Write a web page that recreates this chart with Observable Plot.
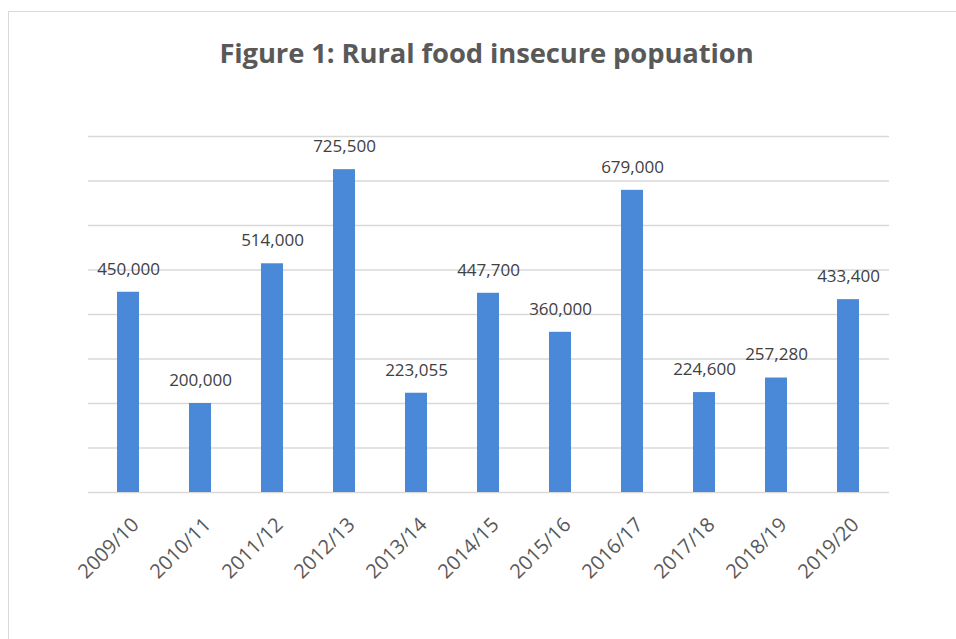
<!DOCTYPE html>
<html>
<head>
<meta charset="utf-8">
<script src="https://cdn.jsdelivr.net/npm/d3@7"></script>
<script src="https://cdn.jsdelivr.net/npm/@observablehq/plot@0.6"></script>
<style>
  html, body { margin: 0; padding: 0; background: #fff; }
  #wrap { position: relative; width: 956px; height: 639px; overflow: hidden; font-family: "Open Sans", sans-serif; }
  #frame { position: absolute; left: 8px; top: 11px; width: 1000px; height: 700px; border: 1.5px solid #d9d9d9; box-sizing: border-box; }
  #title { position: absolute; left: 0; width: 973px; top: 38px; text-align: center; font-size: 27.4px; line-height: 30px; font-weight: bold; color: #595959; letter-spacing: -0.1px; }
  #chart { position: absolute; left: 0; top: 0; }
</style>
</head>
<body>
<div id="wrap">
  <div id="frame"></div>
  <div id="title">Figure 1: Rural food insecure popuation</div>
  <div id="chart"></div>
</div>
<script>
const years = ["2009/10","2010/11","2011/12","2012/13","2013/14","2014/15","2015/16","2016/17","2017/18","2018/19","2019/20"];
const population = [450000, 200000, 514000, 725500, 223055, 447700, 360000, 679000, 224600, 257280, 433400];
const gridTicks = [0, 100000, 200000, 300000, 400000, 500000, 600000, 700000, 800000];

const data = years.map((year, i) => ({year, value: population[i]}));
const fmt = d3.format(",");

const chart = Plot.plot({
  width: 956,
  height: 639,
  marginLeft: 88,
  marginRight: 67,
  marginTop: 136,
  marginBottom: 147,
  style: {fontFamily: "Open Sans, sans-serif", background: "transparent"},
  x: {domain: years, paddingInner: 0.69, paddingOuter: 0.345, label: null},
  y: {domain: [0, 800000], label: null, axis: null},
  marks: [
    Plot.gridY(gridTicks, {stroke: "#d9d9d9", strokeOpacity: 1, strokeWidth: 1.3}),
    Plot.barY(data, {x: "year", y: "value", fill: "#4a89d8"}),
    Plot.text(data, {x: "year", y: "value", text: d => fmt(d.value), dy: -23, fontSize: 17, fill: "#404040"}),
    Plot.axisX({tickSize: 0, tickRotate: -45, tickPadding: 29, dx: 7, fontSize: 20, fill: "#595959", label: null})
  ]
});
document.getElementById("chart").appendChild(chart);
</script>
</body>
</html>
